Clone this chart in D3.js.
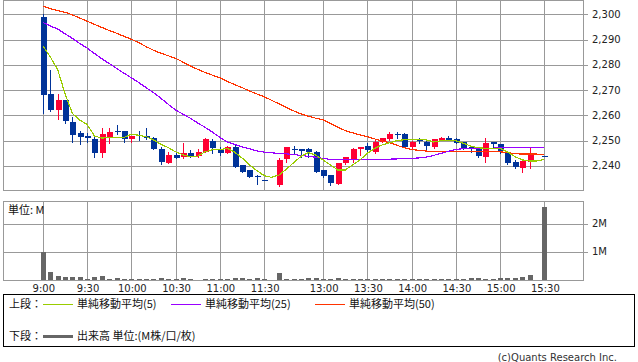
<!DOCTYPE html>
<html><head><meta charset="utf-8">
<script src="https://cdn.jsdelivr.net/npm/d3@7"></script>
<style>body{margin:0;background:#fff}svg{display:block}</style>
</head><body><svg id="c" width="638" height="362"></svg>
<script>
// slot categories (5-minute bars); "" = empty slot
const times = ["9:00","9:05","9:10","9:15","9:20","9:25","9:30","9:35","9:40","9:45","9:50","9:55",
"10:00","10:05","10:10","10:15","10:20","10:25","10:30","10:35","10:40","10:45","10:50","10:55",
"11:00","11:05","11:10","11:15","11:20","11:25","11:30","",
"12:30","12:35","12:40","12:45","12:50","12:55","13:00","13:05","13:10","13:15","13:20","13:25",
"13:30","13:35","13:40","13:45","13:50","13:55","14:00","14:05","14:10","14:15","14:20","14:25",
"14:30","14:35","14:40","14:45","14:50","14:55","15:00","15:05","15:10","15:15","15:20","15:25","15:30"];
const open  = [2299.0,2268.5,2262.1,2266.1,2257.4,2253.0,2252.0,2250.7,2245.3,2251.6,2253.8,2253.8,
2250.5,2252.3,2252.0,2251.0,2246.6,2241.1,2244.3,2243.7,2245.0,2244.1,2245.4,2249.9,
2246.8,2245.0,2247.6,2240.4,2238.4,2235.9,2234.5,null,
2232.3,2242.6,2246.8,2246.6,2246.7,2245.4,2238.4,2236.4,2232.9,2241.1,2242.6,2246.6,
2248.0,2245.4,2249.3,2250.7,2252.7,2252.6,2247.6,2250.3,2249.6,2247.6,2250.3,2251.0,
2250.5,2249.3,2247.5,2246.6,2243.4,2249.3,2248.8,2245.3,2241.7,2239.3,2241.4,null,2243.9];
const high  = [2300.0,2278.0,2268.5,2266.2,2259.3,2254.0,2253.0,2251.6,2254.9,2255.0,2256.4,2253.9,
2252.0,2254.0,2255.1,2251.6,2247.6,2245.4,2245.7,2249.0,2246.3,2246.7,2251.0,2250.8,
2247.6,2247.8,2248.2,2240.4,2238.4,2236.4,2234.5,null,
2243.0,2247.4,2247.9,2246.7,2247.2,2246.0,2238.4,2236.4,2241.1,2243.7,2247.0,2247.4,
2248.9,2250.3,2251.0,2253.6,2253.3,2253.2,2250.0,2250.9,2250.5,2250.5,2251.3,2251.8,
2250.9,2249.6,2247.6,2247.6,2250.9,2249.5,2248.8,2245.3,2242.2,2242.5,2247.4,null,2243.9];
const low   = [2261.0,2261.8,2258.5,2257.0,2249.6,2248.7,2249.4,2243.7,2243.7,2249.0,2252.6,2249.3,
2249.6,2250.3,2250.5,2246.6,2240.8,2241.0,2243.0,2243.3,2243.4,2243.4,2245.4,2245.0,
2244.3,2245.0,2239.7,2237.8,2235.8,2232.9,2234.4,null,
2232.2,2241.7,2245.0,2243.7,2243.7,2237.8,2235.8,2232.5,2232.9,2240.8,2241.7,2244.2,
2245.7,2245.0,2249.3,2250.3,2250.9,2247.6,2246.6,2249.2,2246.6,2247.2,2250.1,2250.1,
2248.9,2246.6,2245.7,2243.7,2241.7,2247.6,2245.0,2240.7,2239.1,2237.8,2239.2,null,2243.8];
const close = [2268.2,2262.1,2266.1,2257.9,2252.3,2251.6,2251.2,2245.3,2252.6,2253.4,2253.4,2250.7,
2252.0,2251.9,2250.9,2246.6,2241.4,2244.3,2243.3,2245.0,2243.7,2245.5,2250.7,2247.0,
2245.0,2247.4,2239.7,2237.8,2235.8,2235.6,2234.4,null,
2242.5,2247.4,2246.6,2246.1,2245.4,2237.8,2236.2,2233.4,2241.1,2243.4,2246.7,2247.4,
2246.3,2249.6,2250.9,2252.6,2252.5,2247.6,2249.6,2250.1,2247.9,2250.5,2251.0,2250.3,
2249.0,2246.6,2246.6,2243.9,2249.0,2248.6,2245.8,2241.1,2239.5,2242.0,2244.6,null,2243.8];
const ma5  = [2287.5,2283.2,2278.2,2268.7,2260.8,2258.2,2256.4,2251.9,2251.0,2251.3,2251.3,2251.3,
2252.5,2252.2,2251.6,2250.3,2248.6,2247.3,2245.6,2244.4,2243.7,2243.9,2245.6,2246.4,
2246.4,2247.0,2245.5,2243.2,2240.5,2238.2,2236.2,2235.5,
2236.4,2238.7,2241.3,2243.8,2245.3,2244.3,2242.4,2240.4,2238.4,2238.4,2240.4,2242.4,
2245.0,2247.0,2248.3,2249.2,2250.0,2250.4,2250.6,2250.6,2250.3,2249.5,2250.0,2250.0,
2250.0,2249.0,2247.9,2247.2,2247.0,2247.0,2247.0,2245.6,2243.7,2242.4,2242.0,2242.0,2242.6];
const ma25 = [2296.8,2295.4,2294.2,2292.3,2290.5,2288.5,2286.6,2284.5,2282.4,2280.5,2278.6,2276.7,
2274.9,2273.0,2271.0,2269.0,2266.8,2264.4,2262.1,2260.5,2258.9,2257.0,2255.3,2253.4,
2251.3,2249.5,2248.5,2247.6,2246.8,2246.0,2245.5,2245.2,
2245.0,2244.8,2244.5,2244.2,2243.8,2243.5,2243.0,2242.6,2242.5,2242.5,2242.5,2242.5,
2242.5,2242.6,2242.6,2242.7,2242.8,2242.9,2243.0,2243.2,2243.5,2244.2,2245.0,2245.8,
2246.5,2246.9,2246.9,2246.9,2246.9,2247.0,2247.3,2247.4,2247.4,2247.4,2247.4,2247.4,2247.4];
const ma50 = [2303.3,2302.2,2301.5,2300.8,2299.8,2298.5,2297.3,2296.0,2294.8,2293.6,2292.5,2291.3,
2290.1,2288.8,2287.2,2285.8,2284.6,2283.6,2282.6,2281.1,2279.6,2278.2,2277.0,2275.9,
2274.9,2273.5,2272.2,2271.0,2269.7,2268.5,2267.4,2266.0,
2264.6,2263.2,2261.8,2260.6,2259.7,2258.9,2258.2,2256.8,2255.3,2254.0,2253.1,2252.3,
2251.6,2250.7,2249.9,2249.2,2248.2,2247.2,2246.5,2246.2,2245.9,2245.7,2245.6,2245.6,
2245.6,2245.6,2245.6,2245.6,2245.6,2245.6,2245.6,2245.3,2244.9,2244.7,2244.7,2244.7,2244.6];
const volume = [1.00,0.30,0.16,0.12,0.12,0.12,0.05,0.12,0.15,0.05,0.08,0.05,
0.05,0.05,0.05,0.05,0.08,0.05,0.05,0.08,0.05,0.02,0.05,0.05,
0.05,0.05,0.08,0.08,0.05,0.08,0.04,null,
0.26,0.05,0.05,0.05,0.08,0.08,0.05,0.05,0.08,0.05,0.05,0.05,
0.05,0.05,0.05,0.05,0.05,0.05,0.05,0.05,0.05,0.05,0.05,0.05,
0.05,0.05,0.08,0.08,0.05,0.05,0.08,0.08,0.08,0.11,0.19,null,2.60];
const priceTicks = [2240,2250,2260,2270,2280,2290,2300];
const volTicks = [1,2];
const volTickLabels = ["1M","2M"];
const timeTicks = ["9:00","9:30","10:00","10:30","11:00","11:30","13:00","13:30","14:00","14:30","15:00","15:30"];
const legendItems = [
  {label:"単純移動平均(5)", color:"#99cc00"},
  {label:"単純移動平均(25)", color:"#9900ff"},
  {label:"単純移動平均(50)", color:"#ff3300"}];

const UP = "#ff0033", DOWN = "#003399", GRID = "#999999";
const svg = d3.select("#c");
const L = 3, R = 582.7;
const x = d3.scaleLinear().domain([-5.4, 73.2]).range([L, R]);
const y = d3.scaleLinear().domain([2230.5, 2305.65]).range([190, 0]);
const yv = d3.scaleLinear().domain([0, 2.8]).range([280.3, 201]);
const ix = t => times.indexOf(t);
const px = v => Math.round(v) + 0.5;
const font = "'DejaVu Sans', Verdana, sans-serif";
const cjk = "'Noto Sans CJK JP', 'DejaVu Sans', sans-serif";

function panel(top, bottom, hTicks, ys) {
  const g = svg.append("g").attr("shape-rendering","crispEdges");
  g.selectAll("line.h").data(hTicks).join("line")
    .attr("x1", L).attr("x2", R).attr("y1", d => px(ys(d))).attr("y2", d => px(ys(d)))
    .attr("stroke", GRID);
  g.selectAll("line.v").data(timeTicks).join("line")
    .attr("x1", d => px(x(ix(d)))).attr("x2", d => px(x(ix(d))))
    .attr("y1", top).attr("y2", bottom).attr("stroke", GRID);
  g.append("rect").attr("x", px(L)).attr("y", top + 0.5).attr("width", Math.round(R) - Math.round(L))
    .attr("height", bottom - top - 0.5).attr("fill","none").attr("stroke", GRID);
  g.selectAll("line.t").data(hTicks).join("line")
    .attr("x1", R).attr("x2", R + 5).attr("y1", d => px(ys(d))).attr("y2", d => px(ys(d)))
    .attr("stroke", GRID);
}
panel(0, 190, priceTicks, y);
panel(201, 280, volTicks, yv);

// price labels
svg.append("g").selectAll("text").data(priceTicks).join("text")
  .attr("x", 592).attr("y", d => y(d)).attr("dy", "0.35em")
  .attr("font-family", font).attr("font-size", 10).attr("fill", "#222")
  .text(d => d3.format(",")(d));
svg.append("g").selectAll("text").data(volTicks).join("text")
  .attr("x", 592).attr("y", d => yv(d)).attr("dy", "0.35em")
  .attr("font-family", font).attr("font-size", 10).attr("fill", "#222")
  .text((d, i) => volTickLabels[i]);
// time labels
svg.append("g").selectAll("text").data(timeTicks).join("text")
  .attr("x", d => x(ix(d)) + 1).attr("y", 292).attr("text-anchor","middle")
  .attr("font-family", font).attr("font-size", 10).attr("fill", "#222").text(d => d);

// candles
const idx = d3.range(times.length).filter(i => open[i] !== null);
const cg = svg.append("g").attr("shape-rendering","crispEdges");
cg.selectAll("line").data(idx).join("line")
  .attr("x1", i => px(x(i))).attr("x2", i => px(x(i)))
  .attr("y1", i => Math.round(y(high[i]))).attr("y2", i => Math.round(y(low[i])) + 1)
  .attr("stroke", i => close[i] > open[i] ? UP : DOWN);
cg.selectAll("rect").data(idx).join("rect")
  .attr("x", i => Math.round(x(i)) - 2.5).attr("width", 6)
  .attr("y", i => Math.round(y(Math.max(open[i], close[i]))))
  .attr("height", i => Math.max(1, Math.round(y(Math.min(open[i], close[i]))) - Math.round(y(Math.max(open[i], close[i])))))
  .attr("fill", i => close[i] > open[i] ? UP : DOWN);

// moving averages (aliased, like the reference)
[[ma50, "#ff3300"], [ma25, "#9900ff"], [ma5, "#99cc00"]].forEach(([arr, col]) => {
  const pts = d3.range(arr.length).filter(i => arr[i] !== null);
  svg.append("path").datum(pts)
    .attr("d", d3.line().x(i => x(i)).y(i => y(arr[i])))
    .attr("fill","none").attr("stroke", col).attr("stroke-width", 1.2)
    .attr("shape-rendering","crispEdges");
});

// volume
const vi = d3.range(times.length).filter(i => volume[i] !== null);
svg.append("g").attr("shape-rendering","crispEdges").selectAll("rect").data(vi).join("rect")
  .attr("x", i => Math.round(x(i)) - 2).attr("width", 5)
  .attr("y", i => Math.round(yv(volume[i])))
  .attr("height", i => 280 - Math.round(yv(volume[i])))
  .attr("fill", "#666666");
svg.append("text").attr("x", 8).attr("y", 214).attr("font-family", cjk).attr("font-size", 11)
  .attr("fill","#111").text("単位: M");

// legend
svg.append("rect").attr("x", 3.5).attr("y", 294.5).attr("width", 631).attr("height", 52)
  .attr("fill","none").attr("stroke","#000").attr("shape-rendering","crispEdges");
const lg = svg.append("g").attr("font-family", cjk).attr("font-size", 11).attr("fill", "#111");
lg.append("text").attr("x", 9).attr("y", 308).text("上段：");
const lx = [43, 171, 315];
legendItems.forEach((d, i) => {
  lg.append("line").attr("x1", lx[i]).attr("x2", lx[i] + 30).attr("y1", 304.5).attr("y2", 304.5)
    .attr("stroke", d.color).attr("stroke-width", 1).attr("shape-rendering","crispEdges");
  lg.append("text").attr("x", lx[i] + 34).attr("y", 308).text(d.label);
});
lg.append("text").attr("x", 9).attr("y", 340).text("下段：");
lg.append("line").attr("x1", 43).attr("x2", 73).attr("y1", 336).attr("y2", 336)
  .attr("stroke", "#666").attr("stroke-width", 3).attr("shape-rendering","crispEdges");
lg.append("text").attr("x", 77).attr("y", 340).text("出来高 単位:(M株/口/枚)");
svg.append("text").attr("x", 617).attr("y", 361).attr("text-anchor","end")
  .attr("font-family", font).attr("font-size", 10).attr("fill","#333").text("(c)Quants Research Inc.");
</script></body></html>
